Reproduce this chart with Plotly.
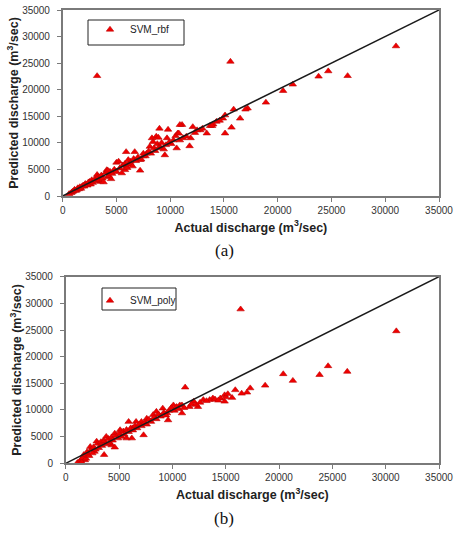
import plotly.graph_objects as go

# ---- data (m3/sec) ----
rbf_actual = [3200, 15600, 31000, 26500, 24700, 23800, 21400, 20500, 18900, 17200, 17000, 15900,
              16500, 15700, 15100, 15100, 14900, 14300, 14000, 13700, 13400, 12800, 12300, 12100,
              11900, 11800, 11100, 10900, 10900, 10600, 10700, 9800, 9700, 9500, 9000, 9000, 8700,
              8300, 8100, 7800, 7500, 7200, 7200, 6700, 5900, 6300, 5900, 5800, 5000, 4900, 4400,
              4100, 4200, 3500, 3200, 3500, 2500, 2200, 1800, 1300, 800,
              600, 900, 1000, 1100, 1200, 1400, 1500, 1600, 1700, 1900, 2000, 2100, 2300, 2400, 2600,
              2700, 2800, 3000, 3100, 3300, 3400, 3600, 3700, 3800, 4000, 4200, 4300, 4500, 4600,
              4800, 5000, 5200, 5300, 5500, 5600, 5800, 6000, 6100, 6200, 6300, 6500, 6600, 6800,
              7000, 7300, 7500, 7700, 8000, 8200, 8400, 8500, 8600, 8800, 8900, 9100, 9200, 9400,
              9600, 9900, 10100, 10300, 10500, 10800, 11200, 11500, 12500, 13000, 13900, 14600]
rbf_pred = [22600, 25300, 28200, 22600, 23500, 22500, 21000, 19800, 17600, 16500, 16300, 16300,
            14600, 12900, 11800, 15200, 14600, 14000, 13500, 13200, 11800, 12400, 11900, 13000,
            10900, 9400, 13400, 13400, 10500, 9000, 11800, 12500, 10900, 7700, 12700, 9300, 11200,
            10900, 9300, 8000, 7500, 6800, 4800, 8300, 8300, 6500, 5500, 4900, 6300, 4600, 4600,
            4900, 3600, 3600, 4000, 2700, 2700, 2100, 1800, 1100, 600,
            400, 800, 900, 1200, 1000, 1500, 1300, 1700, 1400, 2000, 1800, 2300, 2000, 2600, 2200,
            3000, 2500, 3200, 2800, 3600, 3000, 3900, 3300, 2600, 4400, 4800, 3800, 3200, 4200,
            5000, 4600, 6500, 5200, 4300, 5800, 6100, 5300, 6800, 5900, 6100, 5600, 7000, 6600,
            7300, 6900, 8000, 7500, 8400, 8000, 10200, 9000, 8500, 9800, 11000, 9000, 10000, 8800,
            9600, 10100, 9800, 10500, 11300, 11800, 10900, 11200, 12400, 12700, 13200, 14200]

poly_actual = [31000, 26400, 24600, 23800, 21300, 20400, 18700, 17300, 17000, 16500, 16400, 15900,
               15600, 14900, 14900, 14500, 13800, 13500, 12900, 12400, 12000, 11600, 11200, 10900,
               10700, 10100, 9500, 9600, 9100, 8500, 8200, 7600, 7300, 7100, 6600, 5900, 6300, 6200,
               5700, 5100, 4600, 4300, 3800, 3500, 3600, 2900, 2700, 2300, 2100, 1800, 1300, 1200,
               1100, 1400, 1500, 1600, 1700, 1900, 2000, 2200, 2400, 2500, 2600, 2800, 3000, 3100,
               3300, 3400, 3600, 3800, 4000, 4100, 4300, 4400, 4600, 4700, 4900, 5000, 5200, 5400,
               5500, 5700, 5900, 6100, 6300, 6500, 6700, 6900, 7100, 7400, 7600, 7800, 8000, 8300,
               8500, 8700, 8900, 9200, 9400, 9700, 9900, 10200, 10400, 10600, 10900, 11100, 11800,
               12200, 12600, 13200, 14000, 14300, 15000, 15200]
poly_pred = [24800, 17200, 18250, 16600, 15500, 16750, 14600, 14100, 13300, 13100, 28900, 13750,
             12300, 12800, 11600, 12200, 12200, 11900, 11900, 10600, 11600, 10600, 14250, 9400,
             10900, 10900, 9400, 8100, 10300, 9700, 9100, 8400, 5300, 7800, 7800, 7800, 6600, 4700,
             4700, 6250, 5600, 3400, 5000, 4100, 1600, 4100, 2200, 3100, 1600, 600, 300, 0,
             100, 600, 200, 1000, 1600, 900, 2100, 1400, 2600, 1900, 3000, 2600, 3700, 2900,
             4000, 3300, 4200, 3600, 4600, 3900, 4900, 4300, 3000, 5200, 4700, 5600, 5000, 6000,
             5400, 6300, 5900, 6600, 6200, 7000, 6600, 7300, 7000, 7600, 7300, 8200, 7800, 8600,
             8300, 9200, 8800, 9500, 9000, 9900, 10400, 9900, 10600, 10200, 10900, 10400, 11100,
             11000, 11400, 11700, 12000, 11800, 12400, 13000]

line_xy = [0, 35000]
ticks = [0, 5000, 10000, 15000, 20000, 25000, 30000, 35000]
tick_text = [str(t) for t in ticks]

RED = "#f00000"
FONT = "Liberation Sans, Arial, sans-serif"

fig = go.Figure()

marker = dict(symbol="triangle-up", size=6.5, color=RED, line=dict(color="#c00000", width=0.6))

fig.add_trace(go.Scatter(x=rbf_actual, y=rbf_pred, mode="markers", name="SVM_rbf",
                         marker=marker, xaxis="x", yaxis="y", legend="legend"))
fig.add_trace(go.Scatter(x=line_xy, y=line_xy, mode="lines", showlegend=False,
                         line=dict(color="#1a1a1a", width=1.5), xaxis="x", yaxis="y"))
fig.add_trace(go.Scatter(x=poly_actual, y=poly_pred, mode="markers", name="SVM_poly",
                         marker=marker, xaxis="x2", yaxis="y2", legend="legend2"))
fig.add_trace(go.Scatter(x=line_xy, y=line_xy, mode="lines", showlegend=False,
                         line=dict(color="#1a1a1a", width=1.5), xaxis="x2", yaxis="y2"))

W, H = 463, 535


def px_x(p):
    return p / W


def px_y(p):
    return 1 - p / H


axis_common = dict(range=[0, 35000], tickvals=ticks, ticktext=tick_text, showgrid=False,
                   zeroline=False, showline=True, linecolor="#7a7a7a", linewidth=1.5,
                   mirror=True, ticks="outside", ticklen=4, tickcolor="#7a7a7a",
                   automargin=False,
                   tickfont=dict(family=FONT, size=10, color="#333333"))
title_font = dict(family=FONT, size=12.5, color="#222222")

x_title = "<b>Actual discharge (m<sup>3</sup>/sec)</b>"
y_title = "<b>Predicted discharge (m<sup>3</sup>/sec)</b>"

fig.update_layout(
    width=W, height=H, margin=dict(l=0, r=0, t=0, b=0, autoexpand=False),
    paper_bgcolor="white", plot_bgcolor="white",
    xaxis=dict(domain=[px_x(62.7), px_x(439)], anchor="y", **axis_common,
               title=dict(text=x_title, font=title_font, standoff=8)),
    yaxis=dict(domain=[px_y(196), px_y(10)], anchor="x", **axis_common,
               ticklabelstandoff=5,
               title=dict(text=y_title, font=title_font, standoff=1)),
    xaxis2=dict(domain=[px_x(65.7), px_x(439)], anchor="y2", **axis_common,
                title=dict(text=x_title, font=title_font, standoff=8)),
    yaxis2=dict(domain=[px_y(463.3), px_y(276.7)], anchor="x2", **axis_common,
                ticklabelstandoff=5,
                title=dict(text=y_title, font=title_font, standoff=1)),
    legend=dict(x=px_x(90), y=px_y(15), xanchor="left", yanchor="top",
                bgcolor="rgba(0,0,0,0)", borderwidth=0,
                font=dict(family=FONT, size=10, color="#222222")),
    legend2=dict(x=px_x(90), y=px_y(286), xanchor="left", yanchor="top",
                 bgcolor="rgba(0,0,0,0)", borderwidth=0,
                 font=dict(family=FONT, size=10, color="#222222")),
    shapes=[
        dict(type="rect", xref="paper", yref="paper", x0=px_x(88), x1=px_x(184),
             y0=px_y(45), y1=px_y(20), line=dict(color="#222222", width=1)),
        dict(type="rect", xref="paper", yref="paper", x0=px_x(102), x1=px_x(176),
             y0=px_y(310), y1=px_y(288), line=dict(color="#222222", width=1)),
    ],
    annotations=[
        dict(text="(a)", xref="paper", yref="paper", x=px_x(224), y=px_y(250),
             xanchor="center", yanchor="middle", showarrow=False,
             font=dict(family="Liberation Serif, Times New Roman, serif", size=17, color="#111111")),
        dict(text="(b)", xref="paper", yref="paper", x=px_x(224), y=px_y(518),
             xanchor="center", yanchor="middle", showarrow=False,
             font=dict(family="Liberation Serif, Times New Roman, serif", size=17, color="#111111")),
    ],
)

fig.write_html("out.html")
